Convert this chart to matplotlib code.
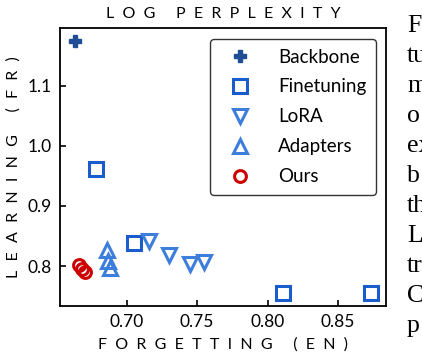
import matplotlib
matplotlib.use('Agg')
import matplotlib.pyplot as plt

plt.rcParams['font.family'] = ['Lato', 'DejaVu Sans']

# data (forgetting EN, learning FR)
backbone_x = [0.6633]
backbone_y = [1.175]
finetune_x = [0.678, 0.7054, 0.8106, 0.8734]
finetune_y = [0.962, 0.8377, 0.756, 0.756]
lora_x = [0.716, 0.730, 0.745, 0.7548]
lora_y = [0.842, 0.818, 0.803, 0.806]
adapters_x = [0.686, 0.6865, 0.688]
adapters_y = [0.826, 0.808, 0.796]
ours_x = [0.6664, 0.668, 0.6703]
ours_y = [0.8017, 0.7945, 0.7895]

xticks = [0.70, 0.75, 0.80, 0.85]
yticks = [0.8, 0.9, 1.0, 1.1]

# text of the paper body that is cut off at the right
side_text = ['F', 'tu', 'm', 'o', 'ex', 'b', 'th', 'L', 'tr', 'C', 'p']


def spaced(s, gap='  '):
    # wide letter spacing like the small caps labels in the paper
    return (gap * 2 + ' ').join(gap.join(w) for w in s.split(' '))


fig = plt.figure(figsize=(4.22, 3.6), dpi=100)
ax = fig.add_axes([0.1422, 0.15, 0.7725, 0.7722])

ax.plot(backbone_x, backbone_y, 'P', ls='none', color='#1f4e96', ms=9,
        mec='#1f4e96', label='Backbone')
ax.plot(finetune_x, finetune_y, 's', ls='none', mfc='none', mec='#1a5ccc',
        ms=9.5, mew=2.2, label='Finetuning')
ax.plot(lora_x, lora_y, 'v', ls='none', mfc='none', mec='#3d7ddb',
        ms=10.5, mew=2.2, label='LoRA')
ax.plot(adapters_x, adapters_y, '^', ls='none', mfc='none', mec='#3d7ddb',
        ms=10.5, mew=2.2, label='Adapters')
ax.plot(ours_x, ours_y, 'o', ls='none', mfc='none', mec='#cc0000',
        ms=8.5, mew=2.2, label='Ours')

ax.set_xlim(0.6527, 0.884)
ax.set_ylim(0.7336, 1.196)
ax.set_xticks(xticks)
ax.set_xticklabels(['%.2f' % v for v in xticks])
ax.set_yticks(yticks)
ax.set_yticklabels(['%.1f' % v for v in yticks])
ax.tick_params(direction='in', length=4.5, width=1.2, labelsize=12.5, pad=6)
for sp in ax.spines.values():
    sp.set_linewidth(1.3)

ax.set_title(spaced('LOG PERPLEXITY'), fontsize=11.5, pad=7)
ax.set_xlabel(spaced('FORGETTING (EN)'), fontsize=11.5, labelpad=5)
ax.set_ylabel(spaced('LEARNING (FR)', '  \u200a'), fontsize=11.5,
              labelpad=5)

leg = ax.legend(loc='upper right', bbox_to_anchor=(0.969, 0.960),
                borderaxespad=0, numpoints=1, fontsize=13.5, fancybox=True,
                framealpha=1, edgecolor='#333333', labelspacing=0.69,
                handletextpad=0.95, borderpad=0.5, handlelength=2.2)
leg.get_frame().set_linewidth(1.0)

for i, t in enumerate(side_text):
    fig.text(407 / 422, 1 - (32 + 30 * i) / 360, t, fontsize=18.5,
             family='Liberation Serif', va='baseline', ha='left')

fig.savefig('out.png', dpi=100)
